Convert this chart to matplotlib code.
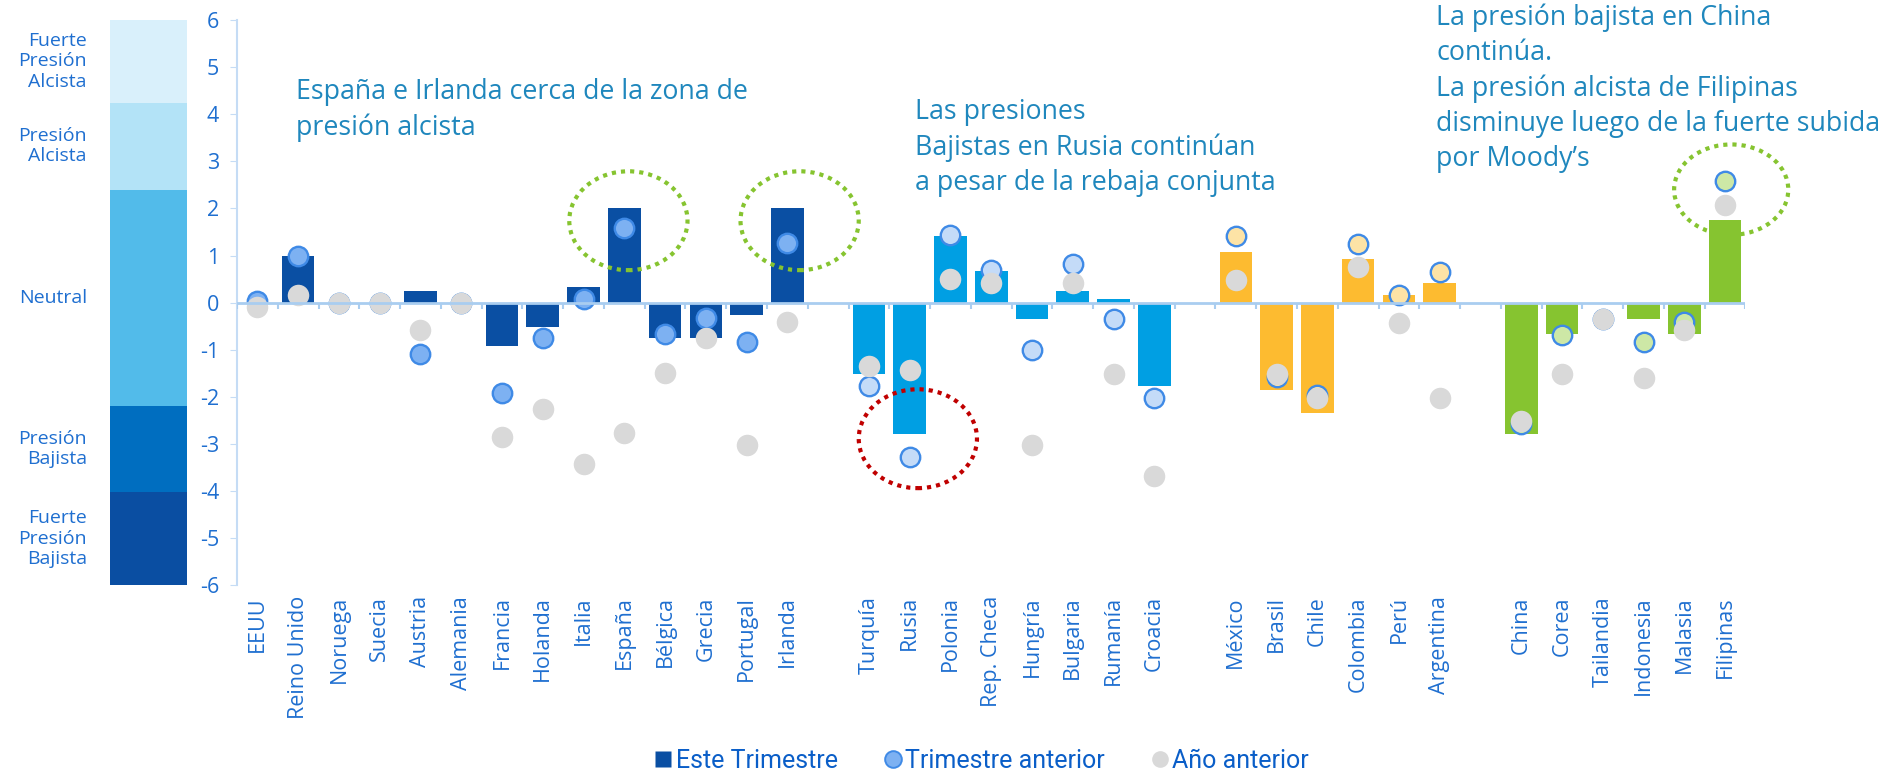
import matplotlib
matplotlib.use("Agg")
import matplotlib.pyplot as plt
from matplotlib.patches import Ellipse
from matplotlib.lines import Line2D
import numpy as np

plt.rcParams['font.family'] = ['Open Sans', 'DejaVu Sans']
plt.rcParams['axes.unicode_minus'] = False

# ---------------- data ----------------
europe = ["EEUU", "Reino Unido", "Noruega", "Suecia", "Austria", "Alemania", "Francia",
          "Holanda", "Italia", "España", "Bélgica", "Grecia", "Portugal", "Irlanda"]
emerging_europe = ["Turquía", "Rusia", "Polonia", "Rep. Checa", "Hungría", "Bulgaria",
                   "Rumanía", "Croacia"]
latam = ["México", "Brasil", "Chile", "Colombia", "Perú", "Argentina"]
asia = ["China", "Corea", "Tailandia", "Indonesia", "Malasia", "Filipinas"]

cur_europe = [0, 1.0, 0, 0, 0.24, 0, -0.92, -0.51, 0.33, 2.0, -0.75, -0.75, -0.26, 2.0]
cur_eme = [-1.52, -2.78, 1.41, 0.67, -0.35, 0.24, 0.07, -1.78]
cur_latam = [1.07, -1.86, -2.35, 0.92, 0.16, 0.41]
cur_asia = [-2.78, -0.67, 0, -0.35, -0.67, 1.76]

prev_europe = [0.04, 1.0, 0, 0, -1.09, 0, -1.92, -0.76, 0.08, 1.58, -0.67, -0.33, -0.84, 1.26]
prev_eme = [-1.76, -3.27, 1.43, 0.69, -1.0, 0.83, -0.34, -2.02]
prev_latam = [1.41, -1.58, -1.96, 1.25, 0.16, 0.66]
prev_asia = [-2.57, -0.68, -0.34, -0.84, -0.41, 2.59]

yago_europe = [-0.1, 0.16, 0, 0, -0.59, 0, -2.85, -2.26, -3.43, -2.76, -1.5, -0.76, -3.02, -0.42]
yago_eme = [-1.35, -1.43, 0.51, 0.41, -3.02, 0.41, -1.51, -3.69]
yago_latam = [0.49, -1.51, -2.02, 0.75, -0.43, -2.02]
yago_asia = [-2.51, -1.51, -0.34, -1.6, -0.59, 2.08]

band_edges = [-6, -4.02, -2.2, 2.4, 4.25, 6]
band_labels = ["Fuerte\nPresión\nBajista", "Presión\nBajista", "Neutral",
               "Presión\nAlcista", "Fuerte\nPresión\nAlcista"]
band_colors = ["#0a4ea2", "#006ec0", "#52bbea", "#b3e3f7", "#d9f0fb"]

group_names = [europe, emerging_europe, latam, asia]
group_cur = [cur_europe, cur_eme, cur_latam, cur_asia]
group_prev = [prev_europe, prev_eme, prev_latam, prev_asia]
group_yago = [yago_europe, yago_eme, yago_latam, yago_asia]
bar_colors = ["#0a4fa3", "#009fe3", "#fdbb30", "#86c430"]
prev_fill = ["#7db1f2", "#c4dbf8", "#fde3a6", "#cde8a6"]
prev_edge = "#3f8ae6"
gray = "#d9d9d9"
text_blue = "#1f87bd"
tick_blue = "#1f6fd0"

# ---------------- figure ----------------
fig = plt.figure(figsize=(18.87, 7.75), dpi=100)
ax = fig.add_axes([0.1256, 0.245, 0.7994, 0.729])
cax = fig.add_axes([0.0583, 0.245, 0.0408, 0.729])

# slot positions with a gap between groups
positions = []
labels = []
start = 0
for names in group_names:
    pos = list(range(start, start + len(names)))
    positions.append(pos)
    labels += names
    start += len(names) + 1
all_pos = [p for pos in positions for p in pos]

for pos, cur, prev, yago, bc, pf in zip(positions, group_cur, group_prev, group_yago,
                                        bar_colors, prev_fill):
    ax.bar(pos, cur, width=0.8, color=bc, zorder=2)
    ax.plot(pos, prev, linestyle='none', marker='o', markersize=14,
            markerfacecolor=pf, markeredgecolor=prev_edge, markeredgewidth=1.7, zorder=3)
    ax.plot(pos, yago, linestyle='none', marker='o', markersize=15.5,
            markerfacecolor=gray, markeredgecolor='none', zorder=4)

n_slots = all_pos[-1] + 1
ax.set_xlim(-0.5, n_slots - 0.5)
ax.set_ylim(-6, 6)

# zero line with small ticks at slot boundaries
ax.axhline(0, color="#a9cdf0", lw=2, zorder=5)
bounds = np.arange(-0.5, n_slots, 1.0)
ax.vlines(bounds, -0.13, 0, color="#a9cdf0", lw=1.5, zorder=5)

for s in ['top', 'right', 'bottom']:
    ax.spines[s].set_visible(False)
ax.spines['left'].set_color("#c5dcf5")
ax.spines['left'].set_linewidth(1.5)
ax.set_yticks(range(-6, 7))
ax.set_yticklabels([str(v) for v in range(-6, 7)])
ax.tick_params(axis='y', colors="#c5dcf5", labelcolor=tick_blue, labelsize=15.5,
               length=5, pad=8)
ax.set_xticks(all_pos)
ax.set_xticklabels(labels, rotation=90, color=tick_blue, fontsize=15.5)
ax.tick_params(axis='x', length=0, pad=8)

# annotation ellipses
dot = (0, (1, 1.2))
ax.add_patch(Ellipse((9.1, 1.74), 2.9, 2.1, fill=False, edgecolor="#86c430",
                     lw=3, linestyle=dot, zorder=6, clip_on=False))
ax.add_patch(Ellipse((13.3, 1.74), 2.9, 2.1, fill=False, edgecolor="#86c430",
                     lw=3, linestyle=dot, zorder=6, clip_on=False))
ax.add_patch(Ellipse((16.2, -2.89), 2.9, 2.1, fill=False, edgecolor="#c00000",
                     lw=3, linestyle=dot, zorder=6, clip_on=False))
ax.add_patch(Ellipse((36.15, 2.4), 2.8, 1.92, fill=False, edgecolor="#86c430",
                     lw=3, linestyle=dot, zorder=6, clip_on=False))

# colour band axis
for lo, hi, col, lab in zip(band_edges[:-1], band_edges[1:], band_colors, band_labels):
    cax.axhspan(lo, hi, color=col, lw=0)
    cax.text(-0.3, (lo + hi) / 2, lab, transform=cax.get_yaxis_transform(),
             ha='right', va='center', multialignment='right', color=tick_blue,
             fontsize=14, linespacing=1.2)
cax.set_ylim(-6, 6)
cax.set_xlim(0, 1)
cax.axis('off')

# text annotations
fs = 19.3
fig.text(0.157, 0.899, "España e Irlanda cerca de la zona de\npresión alcista",
         color=text_blue, fontsize=fs, va='top', ha='left', linespacing=1.33)
fig.text(0.485, 0.873, "Las presiones\nBajistas en Rusia continúan\na pesar de la rebaja conjunta",
         color=text_blue, fontsize=fs, va='top', ha='left', linespacing=1.33)
fig.text(0.761, 0.995, "La presión bajista en China\ncontinúa.\nLa presión alcista de Filipinas\n"
         "disminuye luego de la fuerte subida\npor Moody’s",
         color=text_blue, fontsize=fs, va='top', ha='left', linespacing=1.33)

# legend
handles = [
    Line2D([], [], linestyle='none', marker='s', markersize=11, markerfacecolor=bar_colors[0],
           markeredgecolor='none'),
    Line2D([], [], linestyle='none', marker='o', markersize=12, markerfacecolor=prev_fill[0],
           markeredgecolor=prev_edge, markeredgewidth=1.4),
    Line2D([], [], linestyle='none', marker='o', markersize=12, markerfacecolor=gray,
           markeredgecolor='none'),
]
leg = fig.legend(handles, ["Este Trimestre", "Trimestre anterior", "Año anterior"],
                 loc='center', bbox_to_anchor=(0.52, 0.018), ncol=3, frameon=False,
                 fontsize=18, handletextpad=0.1, columnspacing=1.8, handlelength=0.8)
for t in leg.get_texts():
    t.set_color("#0a5ec8")
    t.set_family(['Liberation Sans Narrow', 'Roboto', 'DejaVu Sans'])

fig.savefig("out.png", dpi=100)
